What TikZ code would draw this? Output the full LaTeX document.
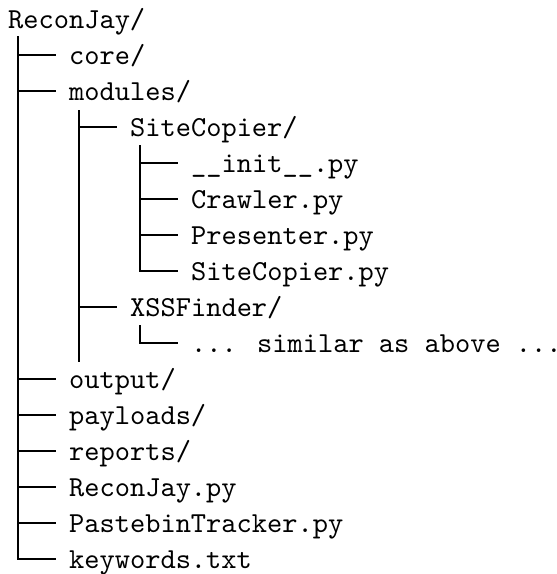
\documentclass[tikz,border=0pt]{standalone}
\usepackage{fontspec}
\newfontfamily\treefont{lmmono10-regular.otf}
\begin{document}
\begin{tikzpicture}[x=1pt,y=-1pt,
  entry/.style={anchor=base west,inner sep=0pt,text height=19pt,text depth=0pt,
    font=\fontsize{29}{34}\selectfont\treefont},
  branch/.style={line width=2pt,line cap=butt,line join=miter}]
\useasboundingbox (0,0) rectangle (557,574);
% baseline of row i = 28.5 + 36 i
\node[entry] (root) at (8,28.5) {ReconJay/};
\node[entry] (core) at (69,64.5) {core/};
\node[entry] (modules) at (69,100.5) {modules/};
\node[entry] (sitecopier) at (130,136.5) {SiteCopier/};
\node[entry] (init) at (191,172.5) {\_\_init\_\_.py};
\node[entry] (crawler) at (191,208.5) {Crawler.py};
\node[entry] (presenter) at (191,244.5) {Presenter.py};
\node[entry] (sitecopierpy) at (191,280.5) {SiteCopier.py};
\node[entry] (xssfinder) at (130,316.5) {XSSFinder/};
\node[entry] (similar) at (191,352.5) {... similar as above ...};
\node[entry] (output) at (69,388.5) {output/};
\node[entry] (payloads) at (69,424.5) {payloads/};
\node[entry] (reports) at (69,460.5) {reports/};
\node[entry] (reconjaypy) at (69,496.5) {ReconJay.py};
\node[entry] (pastebin) at (69,532.5) {PastebinTracker.py};
\node[entry] (keywords) at (69,568.5) {keywords.txt};
% trunk tops and ends
\coordinate (t1) at (17.5,36);
\coordinate (t2) at (78.5,110);
\coordinate (t2end) at (78.5,362);
\coordinate (t3a) at (139.5,145);
\coordinate (t3b) at (139.5,325);
% level 1
\draw[branch] (t1) -- (t1 |- keywords.west) -- ([xshift=-13pt]keywords.west);
\foreach \n in {core,modules,output,payloads,reports,reconjaypy,pastebin}
  \draw[branch] (t1 |- \n.west) -- ([xshift=-13pt]\n.west);
% level 2
\draw[branch] (t2) -- (t2end);
\foreach \n in {sitecopier,xssfinder}
  \draw[branch] (t2 |- \n.west) -- ([xshift=-13pt]\n.west);
% level 3 under SiteCopier
\draw[branch] (t3a) -- (t3a |- sitecopierpy.west) -- ([xshift=-13pt]sitecopierpy.west);
\foreach \n in {init,crawler,presenter}
  \draw[branch] (t3a |- \n.west) -- ([xshift=-13pt]\n.west);
% level 3 under XSSFinder
\draw[branch] (t3b) -- (t3b |- similar.west) -- ([xshift=-13pt]similar.west);
\end{tikzpicture}
\end{document}
